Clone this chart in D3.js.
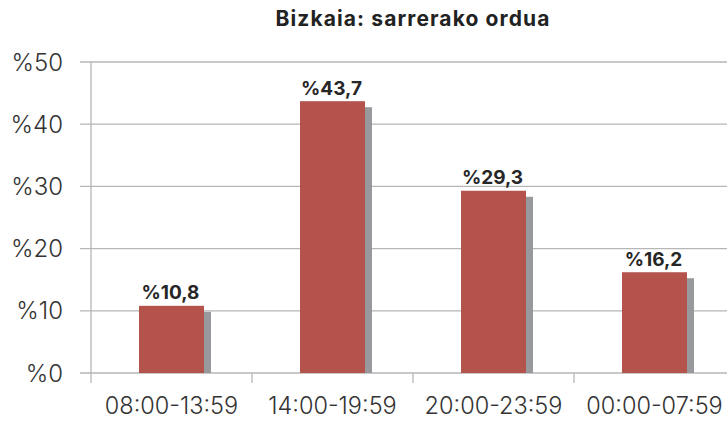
<!DOCTYPE html>
<html><head><meta charset="utf-8">
<script src="https://cdn.jsdelivr.net/npm/d3@7"></script>
<style>
html,body{margin:0;padding:0;background:#fff;}
svg{display:block;}
text{font-family:Inter,"Liberation Sans",Arial,sans-serif;}
</style></head>
<body>
<svg id="chart" width="727" height="421"></svg>
<script>
const title = "Bizkaia: sarrerako ordua";
const categories = ["08:00-13:59", "14:00-19:59", "20:00-23:59", "00:00-07:59"];
const values = [10.8, 43.7, 29.3, 16.2];
const valueLabels = ["%10,8", "%43,7", "%29,3", "%16,2"];
const yTicks = [0, 10, 20, 30, 40, 50];
const yTickLabels = ["%0", "%10", "%20", "%30", "%40", "%50"];

const svg = d3.select("#chart");
const mLeft = 91, mRight = 735, mTop = 62, mBottom = 373;
const x = d3.scaleBand().domain(categories).range([mLeft, mRight]).padding(0);
const y = d3.scaleLinear().domain([0, 50]).range([mBottom, mTop]);
const gridColor = "#b6b6b6";

svg.append("g").selectAll("line").data(yTicks).join("line")
  .attr("x1", mLeft - 11).attr("x2", 727)
  .attr("y1", d => y(d)).attr("y2", d => y(d))
  .attr("stroke", gridColor).attr("stroke-width", 1.3);

svg.append("line").attr("x1", mLeft).attr("x2", mLeft)
  .attr("y1", y(50)).attr("y2", mBottom + 10)
  .attr("stroke", gridColor).attr("stroke-width", 1.3);

svg.append("g").selectAll("line").data(categories.slice(1)).join("line")
  .attr("x1", d => x(d)).attr("x2", d => x(d))
  .attr("y1", mBottom).attr("y2", mBottom + 10)
  .attr("stroke", gridColor).attr("stroke-width", 1.3);

svg.append("g").selectAll("text").data(yTicks).join("text")
  .attr("x", 63).attr("y", d => y(d) + 8.5)
  .attr("text-anchor", "end")
  .attr("font-size", 24).attr("font-weight", 300).attr("fill", "#333")
  .text((d, i) => yTickLabels[i]);

svg.append("g").selectAll("text").data(categories).join("text")
  .attr("x", d => x(d) + x.bandwidth() / 2).attr("y", 414)
  .attr("text-anchor", "middle")
  .attr("font-size", 23.5).attr("font-weight", 300).attr("fill", "#333")
  .text(d => d);

const bw = 65;
const data = categories.map((c, i) => ({c, v: values[i], l: valueLabels[i]}));

svg.append("g").selectAll("rect").data(data).join("rect")
  .attr("x", d => x(d.c) + x.bandwidth() / 2 - bw / 2 + 7)
  .attr("y", d => y(d.v) + 6)
  .attr("width", bw)
  .attr("height", d => mBottom - y(d.v) - 6)
  .attr("fill", "#98999c");

svg.append("g").selectAll("rect").data(data).join("rect")
  .attr("x", d => x(d.c) + x.bandwidth() / 2 - bw / 2)
  .attr("y", d => y(d.v))
  .attr("width", bw)
  .attr("height", d => mBottom - y(d.v))
  .attr("fill", "#b4534c");

svg.append("g").selectAll("text").data(data).join("text")
  .attr("x", d => x(d.c) + x.bandwidth() / 2 - 1)
  .attr("y", d => y(d.v) - 6.5)
  .attr("text-anchor", "middle")
  .attr("font-size", 19).attr("font-weight", 700).attr("fill", "#262626")
  .text(d => d.l);

svg.append("text").attr("x", 413).attr("y", 26)
  .attr("text-anchor", "middle")
  .attr("font-size", 21).attr("font-weight", 700).attr("fill", "#222")
  .attr("letter-spacing", 1.1)
  .text(title);
</script>
</body></html>
